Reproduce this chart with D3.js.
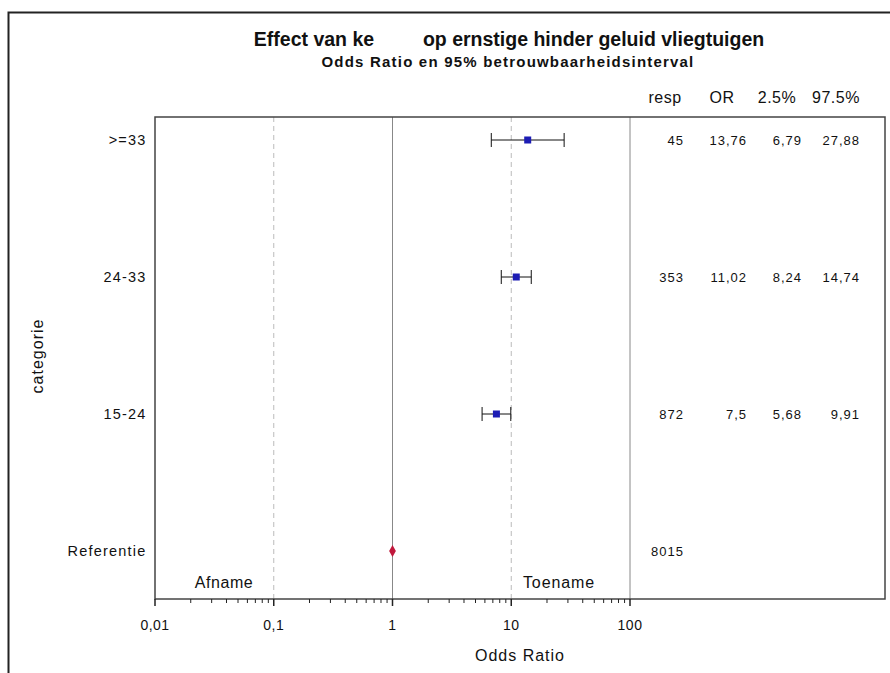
<!DOCTYPE html>
<html><head><meta charset="utf-8">
<script src="https://cdn.jsdelivr.net/npm/d3@7"></script>
<style>
body{margin:0;background:#fff;}
svg text{font-family:"Liberation Sans",Arial,sans-serif;fill:#111;}
</style></head><body>
<svg id="c" width="890" height="673"></svg>
<script>
const categories = [">=33", "24-33", "15-24", "Referentie"];
const orValues = [13.76, 11.02, 7.5, 1];
const lowerValues = [6.79, 8.24, 5.68, null];
const upperValues = [27.88, 14.74, 9.91, null];
const respValues = [45, 353, 872, 8015];
const tickValues = [0.01, 0.1, 1, 10, 100];
const tickLabels = ["0,01", "0,1", "1", "10", "100"];
const headers = ["resp", "OR", "2.5%", "97.5%"];

const svg = d3.select("#c");
const L = 155, R = 885, T = 117, B = 599;
const x = d3.scaleLog().domain([0.01, 100]).range([L, 630]);
const y = d3.scalePoint().domain(categories).range([140, 551]);
const fmt = v => v == null ? "" : String(v).replace(".", ",");

// outer frame
svg.append("path").attr("d", "M8.5,673 L8.5,12.5 L890,12.5").attr("fill","none").attr("stroke","#222").attr("stroke-width",2);

// titles
svg.append("text").attr("x", 509).attr("y", 46).attr("text-anchor","middle")
  .style("font-weight","bold").style("font-size","19.5px").style("white-space","pre")
  .text("Effect van ke         op ernstige hinder geluid vliegtuigen");
svg.append("text").attr("x", 508).attr("y", 67).attr("text-anchor","middle")
  .style("font-weight","bold").style("font-size","15px").style("letter-spacing","1.2px")
  .text("Odds Ratio en 95% betrouwbaarheidsinterval");

// reference lines
[0.1, 10].forEach(v => svg.append("line").attr("x1", x(v)).attr("x2", x(v)).attr("y1", T).attr("y2", B)
  .attr("stroke","#bbb").attr("stroke-dasharray","5,4"));
[1, 100].forEach(v => svg.append("line").attr("x1", x(v)).attr("x2", x(v)).attr("y1", T).attr("y2", B)
  .attr("stroke","#888"));

// plot frame
svg.append("rect").attr("x", L).attr("y", T).attr("width", R-L).attr("height", B-T)
  .attr("fill","none").attr("stroke","#444").attr("stroke-width",1.5);

// x axis ticks
const minor = [];
[0.01, 0.1, 1, 10].forEach(d => { for (let k=2;k<=9;k++) minor.push(d*k); });
svg.selectAll(".mt").data(minor).enter().append("line")
  .attr("x1", d=>x(d)).attr("x2", d=>x(d)).attr("y1", B).attr("y2", B+4).attr("stroke","#222");
svg.selectAll(".Mt").data(tickValues).enter().append("line")
  .attr("x1", d=>x(d)).attr("x2", d=>x(d)).attr("y1", B).attr("y2", B+7).attr("stroke","#222").attr("stroke-width",1.5);
svg.selectAll(".tl").data(tickValues).enter().append("text")
  .attr("x", d=>x(d)).attr("y", 630).attr("text-anchor","middle").style("font-size","14px").style("letter-spacing","0.5px")
  .text((d,i)=>tickLabels[i]);
svg.append("text").attr("x", (L+R)/2).attr("y", 661).attr("text-anchor","middle").style("font-size","16px").style("letter-spacing","1px").text("Odds Ratio");

// y labels
svg.selectAll(".cl").data(categories).enter().append("text")
  .attr("x", 146.5).attr("y", d=>y(d)+5).attr("text-anchor","end").style("font-size","14.5px").style("letter-spacing","1.2px").text(d=>d);
svg.append("text").attr("transform","translate(43,356) rotate(-90)").attr("text-anchor","middle")
  .style("font-size","16px").style("letter-spacing","1px").text("categorie");

// Afname / Toename
svg.append("text").attr("x", 224).attr("y", 588).attr("text-anchor","middle").style("font-size","16px").style("letter-spacing","0.6px").text("Afname");
svg.append("text").attr("x", 559).attr("y", 588).attr("text-anchor","middle").style("font-size","16px").style("letter-spacing","0.9px").text("Toename");

// CI bars
const rows = categories.map((c,i)=>({c, or: orValues[i], lo: lowerValues[i], hi: upperValues[i], n: respValues[i]}));
const ci = rows.filter(r=>r.lo!=null);
const g = svg.append("g");
ci.forEach(r => {
  const yy = y(r.c);
  g.append("line").attr("x1", x(r.lo)).attr("x2", x(r.hi)).attr("y1", yy).attr("y2", yy).attr("stroke","#111");
  [r.lo, r.hi].forEach(v => g.append("line").attr("x1", x(v)).attr("x2", x(v)).attr("y1", yy-7).attr("y2", yy+7).attr("stroke","#111"));
  g.append("rect").attr("x", x(r.or)-3.5).attr("y", yy-3.5).attr("width",7).attr("height",7).attr("fill","#1c1cb4");
});
rows.filter(r=>r.lo==null).forEach(r => {
  g.append("path").attr("d", d3.symbol().type(d3.symbolDiamond).size(40)())
    .attr("transform", `translate(${x(r.or)},${y(r.c)})`).attr("fill","#c0183c");
});

// table
const colX = [665, 722, 777, 836];
headers.forEach((h,i)=> svg.append("text").attr("x", colX[i]).attr("y", 103).attr("text-anchor","middle")
  .style("font-size","16px").style("letter-spacing","0.5px").text(h));
const valX = [684, 747, 802, 860];
rows.forEach(r => {
  const yy = y(r.c) + 4.5;
  const vals = [r.n, r.lo==null?null:r.or, r.lo, r.hi];
  vals.forEach((v,i)=>{
    if (v==null) return;
    svg.append("text").attr("x", valX[i]).attr("y", yy).attr("text-anchor","end")
      .style("font-size","13px").style("letter-spacing","1px").text(fmt(v));
  });
});
</script></body></html>
